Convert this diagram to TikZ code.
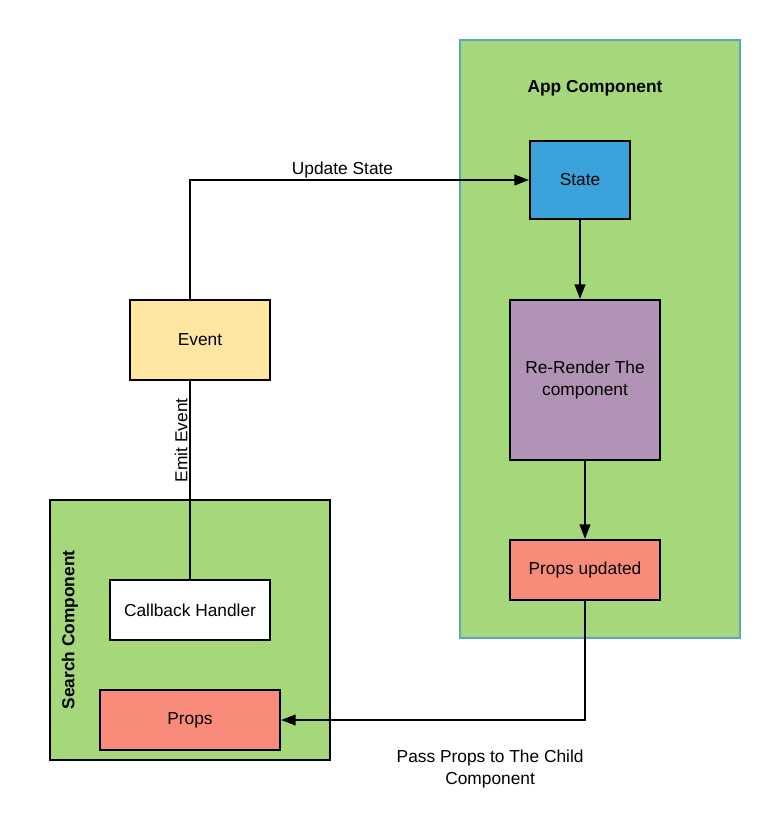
\documentclass[tikz,border=0pt]{standalone}
\usepackage{fontspec}
\setmainfont{Liberation Sans}
\usetikzlibrary{arrows.meta}

\definecolor{compgreen}{HTML}{A4D87A}
\definecolor{appedge}{HTML}{5AA8C0}
\definecolor{stateblue}{HTML}{3BA3DC}
\definecolor{renderpurple}{HTML}{B193B5}
\definecolor{propsred}{HTML}{F88B7A}
\definecolor{eventyellow}{HTML}{FEE6A2}

\tikzset{
    box/.style={draw=black, line width=1.5pt, align=center, inner sep=0pt,
                font=\fontsize{13}{16}\selectfont},
    component/.style={box, fill=compgreen},
    link/.style={draw=black, line width=1.5pt},
    flow/.style={link, -{Triangle[length=11pt,width=8pt]}},
    label/.style={font=\fontsize{13}{16}\selectfont, inner sep=1pt}
}

\begin{document}
\begin{tikzpicture}[x=0.75pt, y=-0.75pt]
\useasboundingbox (0,0) rectangle (780,840);

% containers
\node[component, draw=appedge, minimum width=210pt, minimum height=448.5pt] (app) at (600,339) {};
\node[component, minimum width=210pt, minimum height=195pt] (search) at (190,630) {};
\node[label, font=\fontsize{13}{16}\selectfont\bfseries] (apptitle) at (595,88) {App Component};
\node[label, font=\fontsize{13}{16}\selectfont\bfseries, rotate=90] (searchtitle) at (70,630) {Search Component};

% app side
\node[box, fill=stateblue, minimum width=75pt, minimum height=59pt] (state) at (580,180) {State};
\node[box, fill=renderpurple, minimum width=112.5pt, minimum height=120pt] (render) at (585,380) {Re-Render The\\component};
\node[box, fill=propsred, minimum width=112.5pt, minimum height=45pt] (updated) at (585,570) {Props updated};

% search side
\node[box, fill=eventyellow, minimum width=105pt, minimum height=60pt] (event) at (200,340) {Event};
\node[box, fill=white, minimum width=120pt, minimum height=45pt] (callback) at (190,610) {Callback Handler};
\node[box, fill=propsred, minimum width=135pt, minimum height=45pt] (props) at (190,720) {Props};

\coordinate (turn) at (190,180);

% connectors
\draw[flow] (event.north -| turn) -- (turn) -- node[label, above, pos=0.45] {Update State} (state.west);
\draw[flow] (state.south) -- (state.south |- render.north);
\draw[flow] (render.south) -- (updated.north);
\draw[flow] (updated.south) |- node[label, below=21pt, pos=0.656, align=center] {Pass Props to The Child\\Component} (props.east);
\draw[link] (event.south -| callback.north) -- node[label, rotate=90, above, pos=0.3] {Emit Event} (callback.north);
\end{tikzpicture}
\end{document}
